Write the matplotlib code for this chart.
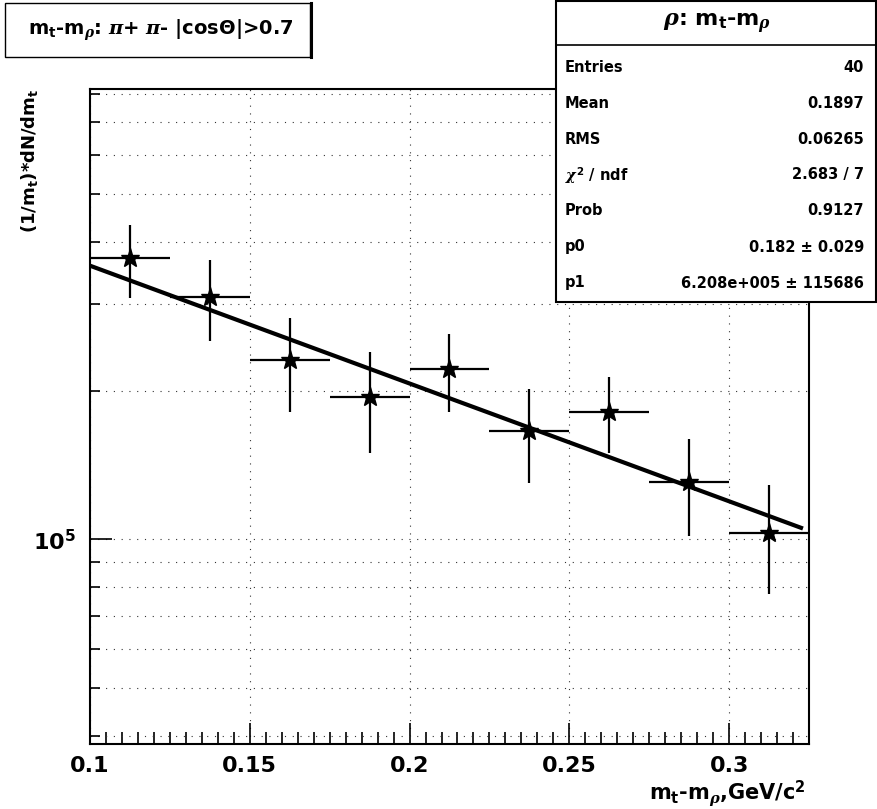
import numpy as np
import matplotlib
matplotlib.use("Agg")
import matplotlib.pyplot as plt
from matplotlib.patches import Rectangle
from matplotlib.lines import Line2D
from matplotlib.ticker import MultipleLocator, LogLocator, FuncFormatter, NullFormatter

plt.rcParams['font.family'] = 'DejaVu Sans'
plt.rcParams['font.weight'] = 'bold'
plt.rcParams['mathtext.fontset'] = 'custom'
plt.rcParams['mathtext.rm'] = 'DejaVu Sans:bold'
plt.rcParams['mathtext.bf'] = 'DejaVu Sans:bold'
plt.rcParams['mathtext.sf'] = 'DejaVu Sans:bold'
plt.rcParams['mathtext.it'] = 'DejaVu Serif:italic'

# histogram: mt - m_rho bins
bin_centers = [0.1125, 0.1375, 0.1625, 0.1875, 0.2125, 0.2375, 0.2625, 0.2875, 0.3125]
bin_half_width = 0.0125
counts = [3.71e5, 3.10e5, 2.31e5, 1.945e5, 2.21e5, 1.66e5, 1.814e5, 1.308e5, 1.031e5]
count_errs = [0.63e5, 0.58e5, 0.50e5, 0.45e5, 0.40e5, 0.36e5, 0.315e5, 0.29e5, 0.255e5]

# exponential fit  p1 * exp(-x / p0)
fit_p0 = 0.182
fit_p1 = 6.208e5
fit_range = (0.1, 0.3225)

stat_names = ["Entries", "Mean", "RMS", r"$\chi^2$ / ndf", "Prob", "p0", "p1"]
stat_values = ["40", "0.1897", "0.06265", "2.683 / 7", "0.9127",
               "0.182 ± 0.029", "6.208e+005 ± 115686"]

W, H = 877, 809


def fx(px):
    return px / W


def fy(py):
    return 1 - py / H


fig = plt.figure(figsize=(W / 100, H / 100), dpi=100)
ax = fig.add_axes([fx(90), fy(744), (809 - 90) / W, (744 - 89) / H])

ax.errorbar(bin_centers, counts, xerr=bin_half_width, yerr=count_errs,
            fmt='*', color='black', ms=14, elinewidth=1.6, capsize=0)
xs = np.linspace(fit_range[0], fit_range[1], 300)
ax.plot(xs, fit_p1 * np.exp(-xs / fit_p0), color='black', lw=3)

ax.set_yscale('log')
ax.set_xlim(0.1, 0.325)
ax.set_ylim(3.85e4, 8.17e5)

ax.xaxis.set_major_locator(MultipleLocator(0.05))
ax.xaxis.set_minor_locator(MultipleLocator(0.005))
ax.xaxis.set_major_formatter(FuncFormatter(lambda v, p: f"{v:g}"))
ax.yaxis.set_major_locator(LogLocator(base=10))
ax.yaxis.set_minor_locator(LogLocator(base=10, subs=np.arange(2, 10)))
ax.yaxis.set_major_formatter(FuncFormatter(lambda v, p: r"$\mathrm{10^{%d}}$" % round(np.log10(v))))
ax.yaxis.set_minor_formatter(NullFormatter())

ax.tick_params(which='both', direction='in', top=False, right=False, width=1.2, labelsize=16)
ax.tick_params(axis='x', which='major', length=15, pad=9)
ax.tick_params(axis='x', which='minor', length=9)
ax.tick_params(axis='y', which='major', length=16, pad=10)
ax.tick_params(axis='y', which='minor', length=7)

dots = (0, (1, 6))
ax.grid(which='major', axis='x', ls=dots, color='0.2', lw=0.8)
ax.grid(which='both', axis='y', ls=dots, color='0.2', lw=0.8)
for sp in ax.spines.values():
    sp.set_linewidth(1.5)

# axis titles
fig.text(fx(30), fy(88), r"(1/m$_\mathrm{t}$)*dN/dm$_\mathrm{t}$", rotation=90,
         ha='center', va='top', fontsize=13)
fig.text(fx(806), fy(800), r"m$_\mathrm{t}$-m$_\rho$,GeV/c$^\mathrm{2}$",
         ha='right', va='baseline', fontsize=15)

# title pave
fig.add_artist(Rectangle((fx(5), fy(57)), (310 - 5) / W, 54 / H, transform=fig.transFigure,
                         fill=False, lw=1.0, color='black'))
fig.add_artist(Line2D([fx(311), fx(311)], [fy(57), fy(3)], transform=fig.transFigure,
                      color='black', lw=2.2))
fig.text(fx(161), fy(30), r"m$_\mathrm{t}$-m$_\rho$: $\pi$+ $\pi$- |cos$\Theta$|>0.7",
         ha='center', va='center', fontsize=14)

# stats box
fig.add_artist(Rectangle((fx(556), fy(302)), (876 - 556) / W, 301 / H, transform=fig.transFigure,
                         fill=True, facecolor='white', lw=1.5, edgecolor='black'))
fig.add_artist(Line2D([fx(556), fx(876)], [fy(45), fy(45)], transform=fig.transFigure,
                      color='black', lw=1.2))
fig.text(fx(717), fy(24), r"$\rho$: m$_\mathrm{t}$-m$_\rho$", ha='center', va='center', fontsize=16)
for i, (name, val) in enumerate(zip(stat_names, stat_values)):
    yy = fy(67 + 36 * i)
    fig.text(fx(565), yy, name, ha='left', va='center', fontsize=10.5)
    fig.text(fx(864), yy, val, ha='right', va='center', fontsize=10.5)

fig.savefig("out.png", dpi=100)
